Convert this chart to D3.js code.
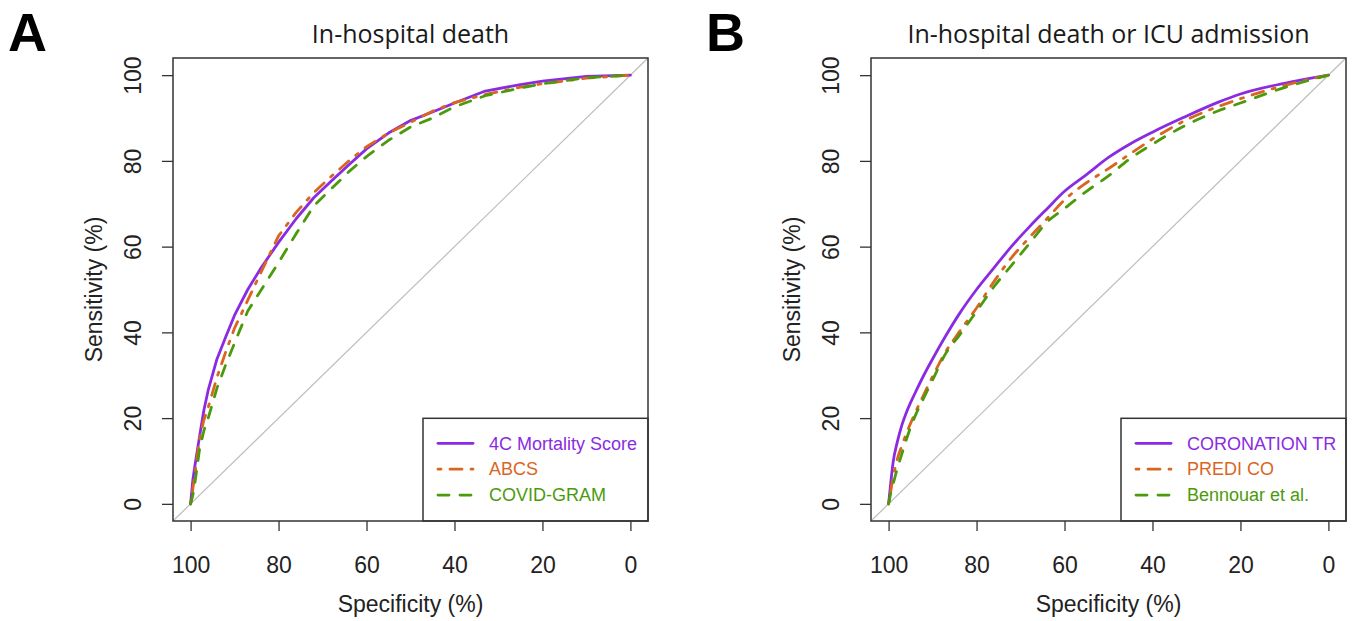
<!DOCTYPE html>
<html>
<head>
<meta charset="utf-8">
<script src="https://cdn.jsdelivr.net/npm/d3@7"></script>
<style>
  body { margin: 0; background: #fff; }
  .tick text, .axisText, .legendText { font-family: "Liberation Sans", Arial, sans-serif; }
  .title { font-family: "Open Sans", sans-serif; }
  .panelLetter { font-family: "Liberation Sans", Arial, sans-serif; }
</style>
</head>
<body>
<div id="chart"></div>
<script>
// Specificity grid (%) shared by all curves
var specGrid = [100, 99.5, 99, 98, 97, 96, 94, 92, 90, 87, 84, 80, 76, 72, 68, 64, 60, 55, 50, 45, 40, 33, 25, 20, 10, 0];

// Panel A: in-hospital death, sensitivity (%)
var death4C        = [0, 5.5, 9, 15.5, 21.7, 26.5, 33.8, 39, 44, 50, 55, 61, 66.5, 71.4, 75.3, 79.1, 82.8, 86.5, 89.4, 91.4, 93.5, 96.3, 97.8, 98.6, 99.7, 100];
var deathABCS      = [0, 3.5, 7, 15, 19.5, 22.5, 29.5, 35.5, 41, 47.5, 54, 62.5, 68, 72.6, 76.4, 80, 83.3, 86.5, 89, 91.6, 93.6, 95.5, 97.2, 98, 99.3, 100];
var deathCovidGram = [0, 2, 5, 12.5, 17, 20, 27, 32.5, 37.5, 45, 49.8, 56.3, 63, 69.5, 73.5, 77.5, 81, 84.8, 87.9, 90, 92.6, 95.2, 97, 98, 99.4, 100];

// Panel B: in-hospital death or ICU admission, sensitivity (%)
var icuCoronation  = [0, 5, 9.5, 14.5, 18.3, 21.2, 25.8, 30, 33.8, 39.2, 44.2, 50, 55.1, 60.1, 64.6, 68.8, 72.9, 76.8, 80.8, 84, 86.7, 90.1, 93.7, 95.6, 98.1, 100];
var icuPrediCo     = [0, 3, 6, 10.5, 13.5, 16.3, 21.1, 25.5, 29.7, 35.5, 40, 45.7, 51.9, 57.5, 62.1, 66.5, 70.9, 74.9, 78.2, 81.7, 85.1, 89.2, 92.7, 94.5, 97.6, 100];
var icuBennouar    = [0, 2.5, 4.5, 8.3, 11.6, 14.9, 20.4, 24.7, 28.9, 35.1, 39.2, 44.9, 50.7, 55.7, 60.7, 65.7, 68.9, 72.9, 76.5, 80.6, 83.9, 88, 91.7, 93.5, 97.1, 100];

var legendA = ["4C Mortality Score", "ABCS", "COVID-GRAM"];
var legendB = ["CORONATION TR", "PREDI CO", "Bennouar et al."];
var specTicks = [100, 80, 60, 40, 20, 0];
var sensTicks = [0, 20, 40, 60, 80, 100];

var colors = ["#8a2be2", "#d9661f", "#4c9a0c"];
var dashes = [null, "3,9,12,9", "11,11"];

var svgWidth = 1354;
var svgHeight = 621;
var plotWidth = 475;
var plotHeight = 463;

var svg = d3.select("#chart")
  .append("svg")
  .attr("width", svgWidth)
  .attr("height", svgHeight);

// x runs from 100 down to 0, R pads the range by 4% each side
var xScale = d3.scaleLinear().domain([104, -4]).range([0, plotWidth]);
var yScale = d3.scaleLinear().domain([-4, 104]).range([plotHeight, 0]);

function drawPanel(left, letter, title, series, labels, curve) {
  var g = svg.append("g").attr("transform", `translate(${left}, 58)`);

  // panel letter and title
  svg.append("text")
    .attr("class", "panelLetter")
    .attr("x", left - 165)
    .attr("y", 51)
    .style("font-size", "54px")
    .style("font-weight", "bold")
    .text(letter);

  svg.append("text")
    .attr("class", "title")
    .attr("x", left + plotWidth / 2)
    .attr("y", 43)
    .style("text-anchor", "middle")
    .style("font-size", "25px")
    .attr("fill", "#1a1a1a")
    .text(title);

  // axes
  var bottomAxis = d3.axisBottom(xScale).tickValues(specTicks).tickSize(10).tickPadding(26);
  var leftAxis = d3.axisLeft(yScale).tickValues(sensTicks).tickSize(11);

  var xAxis = g.append("g")
    .attr("transform", `translate(0, ${plotHeight})`)
    .call(bottomAxis);
  var yAxis = g.append("g").call(leftAxis);

  [xAxis, yAxis].forEach(function(ax) {
    ax.select(".domain").remove();
    ax.selectAll("line").attr("stroke", "#333").attr("stroke-width", 1.3);
    ax.selectAll("text").style("font-size", "23px").attr("fill", "#222");
  });

  yAxis.selectAll("text")
    .attr("transform", "rotate(-90)")
    .attr("x", 0)
    .attr("y", -40)
    .attr("dy", "0.35em")
    .style("text-anchor", "middle");

  // axis labels
  g.append("text")
    .attr("class", "axisText")
    .attr("transform", `translate(${-79}, ${plotHeight / 2}) rotate(-90)`)
    .attr("dy", "0.35em")
    .style("text-anchor", "middle")
    .style("font-size", "23px")
    .attr("fill", "#222")
    .text("Sensitivity (%)");

  g.append("text")
    .attr("class", "axisText")
    .attr("x", xScale(50))
    .attr("y", 553.5)
    .style("text-anchor", "middle")
    .style("font-size", "23px")
    .attr("fill", "#222")
    .text("Specificity (%)");

  // chance diagonal, corner to corner
  g.append("line")
    .attr("x1", xScale(104)).attr("y1", yScale(-4))
    .attr("x2", xScale(-4)).attr("y2", yScale(104))
    .attr("stroke", "#bdbdbd")
    .attr("stroke-width", 1.2);

  var line = d3.line()
    .x(d => xScale(d[0]))
    .y(d => yScale(d[1]))
    .curve(curve);

  series.forEach(function(sens, i) {
    g.append("path")
      .datum(d3.zip(specGrid, sens))
      .attr("d", line)
      .attr("fill", "none")
      .attr("stroke", colors[i])
      .attr("stroke-width", 2.8)
      .attr("stroke-linecap", "round")
      .attr("stroke-linejoin", "round")
      .attr("stroke-dasharray", dashes[i]);
  });

  // legend
  var legend = g.append("g").attr("transform", "translate(250, 360.3)");
  legend.append("rect")
    .attr("width", plotWidth - 250)
    .attr("height", plotHeight - 360.3)
    .attr("fill", "#fff")
    .attr("stroke", "#333")
    .attr("stroke-width", 1.5);

  labels.forEach(function(label, i) {
    var rowY = 25 + i * 25.9;
    legend.append("line")
      .attr("x1", 15).attr("x2", 50)
      .attr("y1", rowY).attr("y2", rowY)
      .attr("stroke", colors[i])
      .attr("stroke-width", 2.8)
      .attr("stroke-linecap", "round")
      .attr("stroke-dasharray", dashes[i]);
    legend.append("text")
      .attr("class", "legendText")
      .attr("x", 66)
      .attr("y", rowY)
      .attr("dy", "0.35em")
      .style("font-size", "18px")
      .attr("fill", colors[i])
      .text(label);
  });

  // plot box on top
  g.append("rect")
    .attr("width", plotWidth)
    .attr("height", plotHeight)
    .attr("fill", "none")
    .attr("stroke", "#333")
    .attr("stroke-width", 1.5);
}

drawPanel(173, "A", "In-hospital death",
  [death4C, deathABCS, deathCovidGram], legendA, d3.curveLinear);
drawPanel(871, "B", "In-hospital death or ICU admission",
  [icuCoronation, icuPrediCo, icuBennouar], legendB, d3.curveMonotoneX);
</script>
</body>
</html>
